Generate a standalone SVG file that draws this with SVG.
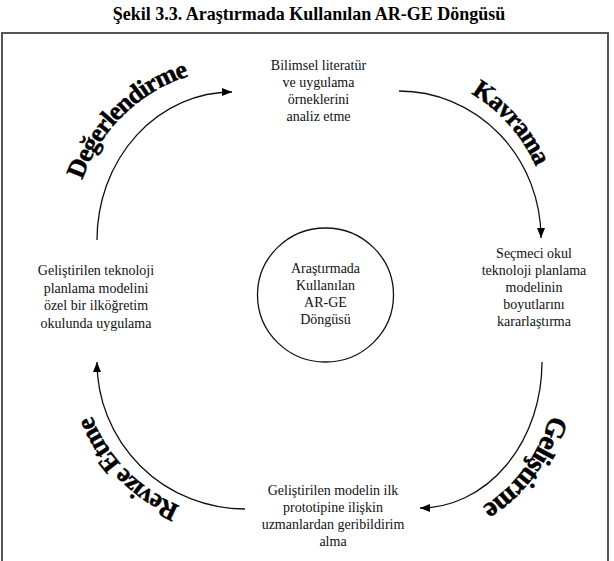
<svg xmlns="http://www.w3.org/2000/svg" width="614" height="561" viewBox="0 0 614 561">
<style>
.t{font-family:"Liberation Serif","Times New Roman",serif;font-size:14px;fill:#111;text-anchor:middle}
.h{font-family:"Liberation Serif","Times New Roman",serif;font-size:18px;font-weight:bold;fill:#000;text-anchor:middle}
.c{font-family:"Liberation Serif","Times New Roman",serif;font-weight:bold;fill:#000;stroke:#000;stroke-width:0.5;text-anchor:middle;letter-spacing:-1px}
.arc{fill:none;stroke:#111;stroke-width:1.3}
</style>
<defs>
<marker id="ah" viewBox="0 0 10 8" refX="10" refY="4" markerWidth="10" markerHeight="8" markerUnits="userSpaceOnUse" orient="auto">
<path d="M0,0 L10,4 L0,8 Z" fill="#000"/>
</marker>
<path id="p1" d="M72.1,245.9 A160,170 0 0 1 254.3,71.7"/>
<path id="p2" d="M385.8,74.6 A152,164 0 0 1 550.4,252.3"/>
<path id="p3" d="M557,342.3 A138,162 0 0 1 412.8,523.8"/>
<path id="p4" d="M253.5,518.8 A163,157 0 0 1 83.2,342.9"/>
</defs>
<rect x="2" y="33" width="606" height="540" fill="#fff" stroke="#555" stroke-width="2"/>
<text class="h" x="309" y="20">Şekil 3.3. Araştırmada Kullanılan AR-GE Döngüsü</text>
<g id="connectors">
<path class="arc" d="M97,240 A135,148 0 0 1 232,92" marker-end="url(#ah)"/>
<path class="arc" d="M399,91 A142,147 0 0 1 541,238" marker-end="url(#ah)"/>
<path class="arc" d="M542,362 A122,146 0 0 1 420,508" marker-end="url(#ah)"/>
<path class="arc" d="M245,509 A148,147 0 0 1 97,362" marker-end="url(#ah)"/>
</g>
<g id="labels">
<text class="c" font-size="26"><textPath href="#p1" startOffset="50%">Değerlendirme</textPath></text>
<text class="c" font-size="26"><textPath href="#p2" startOffset="50%">Kavrama</textPath></text>
<text class="c" font-size="28"><textPath href="#p3" startOffset="50%">Geliştirme</textPath></text>
<text class="c" font-size="26"><textPath href="#p4" startOffset="50%">Revize Etme</textPath></text>
</g>
<g id="center">
<ellipse cx="325.5" cy="295" rx="68" ry="67" fill="none" stroke="#111" stroke-width="1.3"/>
<text class="t" x="325.5" y="273">Araştırmada</text>
<text class="t" x="325.5" y="290">Kullanılan</text>
<text class="t" x="325.5" y="307">AR-GE</text>
<text class="t" x="325.5" y="324">Döngüsü</text>
</g>
<g id="node-top">
<text class="t" x="318.5" y="70">Bilimsel literatür</text>
<text class="t" x="318.5" y="87">ve uygulama</text>
<text class="t" x="318.5" y="104">örneklerini</text>
<text class="t" x="318.5" y="121">analiz etme</text>
</g>
<g id="node-right">
<text class="t" x="534" y="258">Seçmeci okul</text>
<text class="t" x="534" y="275">teknoloji planlama</text>
<text class="t" x="534" y="292">modelinin</text>
<text class="t" x="534" y="309">boyutlarını</text>
<text class="t" x="534" y="326">kararlaştırma</text>
</g>
<g id="node-bottom">
<text class="t" x="333" y="495">Geliştirilen modelin ilk</text>
<text class="t" x="333" y="512">prototipine ilişkin</text>
<text class="t" x="333" y="529">uzmanlardan geribildirim</text>
<text class="t" x="333" y="546">alma</text>
</g>
<g id="node-left">
<text class="t" x="96" y="275">Geliştirilen teknoloji</text>
<text class="t" x="96" y="292.5">planlama modelini</text>
<text class="t" x="96" y="310">özel bir ilköğretim</text>
<text class="t" x="96" y="327.5">okulunda uygulama</text>
</g>
</svg>
